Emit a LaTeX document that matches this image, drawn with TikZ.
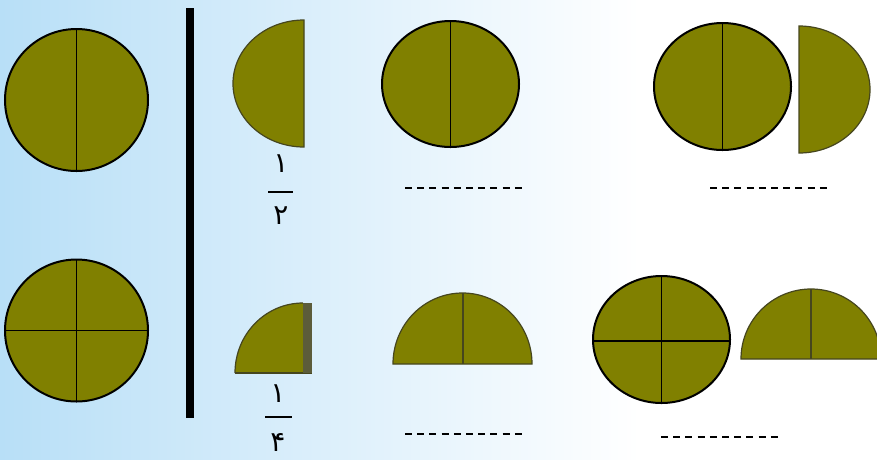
\documentclass[tikz,border=0pt]{standalone}
\usepackage{fontspec}
\newfontfamily\arabicfont[Script=Arabic]{DejaVu Sans}
\definecolor{bgblue}{RGB}{184,223,247}
\definecolor{olivefill}{RGB}{128,128,0}
\definecolor{oliveedge}{RGB}{70,70,30}
\definecolor{olivestrip}{RGB}{92,92,58}
\tikzset{
  disc/.style={fill=olivefill,draw=black,line width=2pt},
  divider/.style={draw=black,line width=1.8pt},
  piece/.style={fill=olivefill,draw=oliveedge,line width=1.2pt},
  pieceline/.style={draw=oliveedge,line width=2pt},
  blank/.style={draw=black,line width=1.6pt,dash pattern=on 7pt off 5.2pt},
  digit/.style={font=\arabicfont\fontsize{28}{28}\selectfont,inner sep=0pt},
  fracbar/.style={draw=black,line width=1.5pt}
}
\begin{document}
\begin{tikzpicture}[x=1pt,y=-1pt]
\useasboundingbox (0,0) rectangle (877,459);
% background
\fill[white] (0,0) rectangle (877,459);
\shade[left color=bgblue,right color=white] (0,0) rectangle (640,459);
\clip (0,0) rectangle (877,459);
% left reference circles
\filldraw[disc] (76.5,100) ellipse [x radius=71.5,y radius=71];
\draw[divider] (76.5,29) -- (76.5,171);
\filldraw[disc] (76.5,330.5) ellipse [x radius=71.5,y radius=71];
\draw[divider] (76.5,259.5) -- (76.5,401.5);
\draw[divider] (5,330.5) -- (148,330.5);
% thick separator
\draw[line width=8pt] (190,8) -- (190,418);
% half piece (top)
\filldraw[piece] (304,147) arc[start angle=90,end angle=270,x radius=71,y radius=63.5] -- cycle;
% fraction 1/2
\node[digit] (n1) at (281,164) {۱};
\draw[fracbar] (268,192) -- (293,192);
\node[digit] (d2) at (281,216) {۲};
% quarter piece (bottom)
\fill[olivefill] (235,373) arc[start angle=180,end angle=270,x radius=68,y radius=70] -- (303,373) -- cycle;
\draw[oliveedge,line width=1.2pt] (235,373) arc[start angle=180,end angle=270,x radius=68,y radius=70];
\draw[oliveedge,line width=1.2pt] (235,373) -- (312,373);
\fill[olivestrip] (303,303) rectangle (312,373);
% fraction 1/4
\node[digit] (n1b) at (278,394) {۱};
\draw[fracbar] (265,417) -- (292,417);
\node[digit] (d4) at (278,442) {۴};
% top middle whole circle
\filldraw[disc] (450.5,84) ellipse [x radius=68.5,y radius=63];
\draw[divider] (450.5,21) -- (450.5,147);
\draw[blank] (405,188) -- (522,188);
% top right: whole + half
\filldraw[disc] (722.5,86.5) ellipse [x radius=68.5,y radius=63.5];
\draw[divider] (722.5,23) -- (722.5,150);
\filldraw[piece] (799,153) arc[start angle=90,end angle=-90,x radius=71,y radius=63.5] -- cycle;
\draw[blank] (710,188) -- (827,188);
% bottom middle: half dome
\filldraw[piece] (393,364) arc[start angle=180,end angle=360,x radius=69.5,y radius=71] -- cycle;
\draw[pieceline] (462.5,364) -- (462.5,293);
\draw[blank] (405,434) -- (522,434);
% bottom right: whole quartered + half dome
\filldraw[disc] (661.5,339.5) ellipse [x radius=68.5,y radius=63.5];
\draw[divider] (661.5,276) -- (661.5,403);
\draw[divider] (593,341) -- (730,341);
\filldraw[piece] (741,359) arc[start angle=180,end angle=360,x radius=70,y radius=70] -- cycle;
\draw[pieceline] (811,359) -- (811,289);
\draw[blank] (661,437) -- (778,437);
\end{tikzpicture}
\end{document}
